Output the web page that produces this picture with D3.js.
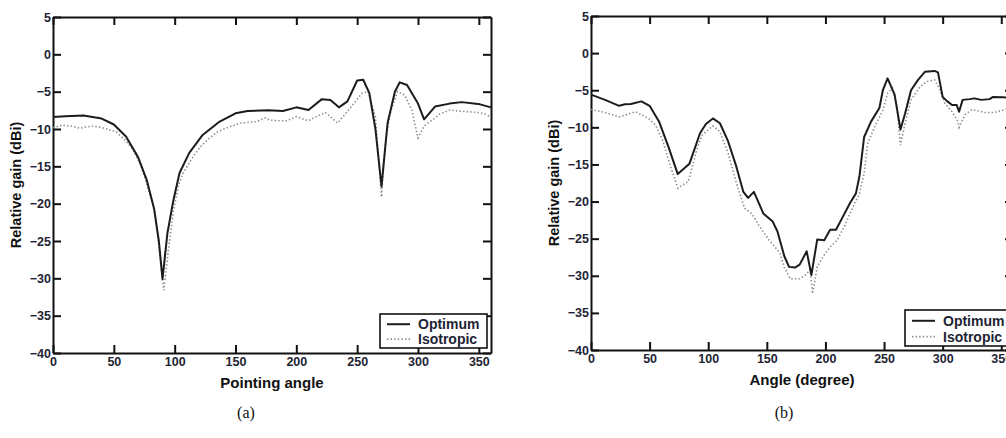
<!DOCTYPE html>
<html>
<head>
<meta charset="utf-8">
<script src="https://cdn.jsdelivr.net/npm/d3@7"></script>
<style>
  html, body { margin: 0; padding: 0; background: #fff; }
  svg { display: block; }
</style>
</head>
<body>
<div id="chart"></div>
<script>
// panel (a): gain vs pointing angle
const angleOptA = [0, 10, 25, 40, 50, 60, 70, 77, 83, 87, 90, 94, 99, 104, 112, 123, 137, 150, 160, 177, 189, 200, 210, 221, 228, 235, 242, 250, 255, 260, 265, 270, 275, 281, 285, 291, 300, 305, 314, 326, 336, 351, 360];
const gainOptA = [-8.4, -8.3, -8.2, -8.6, -9.4, -11.0, -13.8, -16.8, -20.6, -25, -30.1, -24, -19.5, -15.9, -13.2, -10.8, -9.0, -7.9, -7.6, -7.5, -7.6, -7.1, -7.45, -6.0, -6.1, -7.1, -6.3, -3.5, -3.4, -5.2, -10, -17.7, -9.2, -5.0, -3.75, -4.1, -6.6, -8.7, -7.0, -6.6, -6.4, -6.7, -7.1];
const angleIsoA = [0, 8, 15, 22, 32, 40, 52, 60, 66, 72, 77, 84, 88, 91, 95, 99, 103, 107, 114, 121, 128, 135, 145, 154, 162, 168, 174, 178, 185, 192, 200, 210, 217, 224, 234, 244, 254, 259, 265, 270, 273, 277, 283, 289, 295, 300, 305, 310, 318, 326, 333, 342, 350, 355, 360];
const gainIsoA = [-9.8, -9.5, -9.6, -9.9, -9.6, -9.8, -10.4, -11.6, -12.8, -14.8, -17.3, -21.3, -27, -31.6, -26, -21, -17.6, -15.9, -14.0, -12.4, -11.3, -10.4, -9.7, -9.2, -9.1, -9.0, -8.5, -8.8, -8.9, -8.9, -8.35, -8.9, -8.3, -7.8, -9.2, -7.25, -5.2, -5.0, -8.4, -19.1, -12, -8, -5.0, -5.45, -7.5, -11.2, -9.6, -9.0, -8.0, -7.45, -7.6, -7.7, -7.8, -8.0, -8.4];

// panel (b): gain vs angle (degree)
const angleOptB = [0, 12, 24, 29, 34, 43, 50, 58, 66, 74, 84, 93, 98, 104, 110, 117, 124, 130, 134, 139, 147, 155, 159, 165, 169, 174, 178, 184, 188, 193, 199, 204, 209, 215, 221, 226, 229, 233, 239, 246, 249, 253, 259, 264, 268, 273, 279, 285, 293, 296, 300, 304, 308, 312, 314, 317, 323, 327, 333, 340, 343, 351, 360];
const gainOptB = [-5.6, -6.3, -7.1, -6.9, -6.86, -6.5, -7.1, -9.2, -12.6, -16.3, -14.9, -10.8, -9.55, -8.8, -9.45, -11.9, -15.3, -18.7, -19.5, -18.7, -21.6, -22.7, -24.0, -27.4, -28.8, -28.9, -28.5, -26.7, -29.9, -25.1, -25.2, -23.8, -23.8, -22.0, -20.2, -18.9, -16.6, -11.3, -9.2, -7.4, -5.0, -3.4, -5.6, -10.3, -8.1, -5.0, -3.6, -2.5, -2.4, -2.6, -5.9, -6.5, -7.0, -7.0, -7.9, -6.3, -6.2, -6.1, -6.3, -6.2, -5.9, -5.95, -6.0];
const angleIsoB = [0, 12, 24, 34, 38, 49, 55, 61, 67, 74, 83, 91, 95, 104, 110, 117, 124, 131, 137, 144, 152, 161, 165, 170, 178, 183, 187, 189, 193, 198, 204, 210, 216, 225, 229, 233, 236, 242, 249, 253, 257, 261, 264, 268, 273, 280, 286, 293, 297, 302, 308, 313, 314, 319, 325, 336, 344, 351, 360];
const gainIsoB = [-7.6, -8.0, -8.6, -8.1, -7.9, -8.8, -9.7, -11.7, -14.85, -18.2, -17.3, -12.6, -11.0, -9.8, -10.6, -13.5, -17.5, -20.9, -21.6, -23.4, -25.2, -26.9, -28.9, -30.4, -30.4, -29.9, -29.2, -32.4, -28.8, -27.4, -26.1, -25.2, -23.4, -20.2, -18.9, -16.2, -12.2, -9.9, -7.7, -5.4, -4.7, -7.2, -12.4, -9.45, -6.3, -4.7, -3.85, -3.6, -4.7, -6.8, -7.9, -9.2, -10.0, -8.3, -7.6, -8.0, -8.0, -7.7, -7.3];

const xTicks = [0, 50, 100, 150, 200, 250, 300, 350];
const yTicks = [-40, -35, -30, -25, -20, -15, -10, -5, 0, 5];
const seriesNames = ["Optimum", "Isotropic"];

const W = 1006, H = 438;
const FONT = "Arial, 'Liberation Sans', sans-serif";
const svg = d3.select("#chart").append("svg").attr("width", W).attr("height", H);

const panels = [
  { left: 53, top: 17, width: 438, height: 336, xTitle: "Pointing angle", tag: "(a)", tagX: 246,
    opt: [angleOptA, gainOptA], iso: [angleIsoA, gainIsoA], legend: { x: 380, y: 314, w: 107, h: 34 } },
  { left: 591, top: 16, width: 422, height: 334, xTitle: "Angle (degree)", tag: "(b)", tagX: 784,
    opt: [angleOptB, gainOptB], iso: [angleIsoB, gainIsoB], legend: { x: 905, y: 310, w: 107, h: 36 } },
];

panels.forEach(drawPanel);

function drawPanel(p) {
  const g = svg.append("g").attr("transform", `translate(${p.left},${p.top})`);
  const x = d3.scaleLinear().domain([0, 360]).range([0, p.width]);
  const y = d3.scaleLinear().domain([-40, 5]).range([p.height, 0]);
  const fmt = (d) => (d < 0 ? "\u2212" + Math.abs(d) : String(d));

  const styleAxis = (sel) => {
    sel.select(".domain").attr("stroke", "#111").attr("stroke-width", 2);
    sel.selectAll(".tick line").attr("stroke", "#111").attr("stroke-width", 2);
    sel.selectAll(".tick text")
      .style("font-family", FONT).style("font-weight", "bold")
      .style("font-size", "12.5px").style("fill", "#1e2433");
  };

  g.append("g").attr("transform", `translate(0,${p.height})`)
    .call(d3.axisBottom(x).tickValues(xTicks).tickFormat(fmt).tickSizeInner(-8).tickSizeOuter(0).tickPadding(4))
    .call(styleAxis);
  g.append("g")
    .call(d3.axisTop(x).tickValues(xTicks).tickFormat("").tickSizeInner(-8).tickSizeOuter(0))
    .call(styleAxis);
  g.append("g")
    .call(d3.axisLeft(y).tickValues(yTicks).tickFormat(fmt).tickSizeInner(-8).tickSizeOuter(0).tickPadding(2))
    .call(styleAxis);
  g.append("g").attr("transform", `translate(${p.width},0)`)
    .call(d3.axisRight(y).tickValues(yTicks).tickFormat("").tickSizeInner(-8).tickSizeOuter(0))
    .call(styleAxis);

  const line = d3.line().x((d) => x(d[0])).y((d) => y(d[1]));
  const isoPts = d3.zip(p.iso[0], p.iso[1]);
  const optPts = d3.zip(p.opt[0], p.opt[1]);

  g.append("path").datum(isoPts).attr("d", line)
    .attr("fill", "none").attr("stroke", "#8a8a8a").attr("stroke-width", 1.6)
    .attr("stroke-dasharray", "1.4,2.2");
  g.append("path").datum(optPts).attr("d", line)
    .attr("fill", "none").attr("stroke", "#1c1c1c").attr("stroke-width", 2)
    .attr("stroke-linejoin", "round");

  // axis titles
  g.append("text")
    .attr("x", p.width / 2).attr("y", p.height + 35)
    .attr("text-anchor", "middle")
    .style("font-family", FONT)
    .style("font-weight", "bold").style("font-size", "15px").style("fill", "#111")
    .text(p.xTitle);
  g.append("text")
    .attr("transform", `translate(-32,${p.height / 2}) rotate(-90)`)
    .attr("text-anchor", "middle")
    .style("font-family", FONT)
    .style("font-weight", "bold").style("font-size", "14.5px").style("fill", "#111")
    .text("Relative gain (dBi)");

  // legend
  const lg = svg.append("g").attr("transform", `translate(${p.legend.x},${p.legend.y})`);
  lg.append("rect").attr("width", p.legend.w).attr("height", p.legend.h)
    .attr("fill", "#fff").attr("stroke", "#111").attr("stroke-width", 1.6);
  const rows = lg.selectAll("g.row").data(seriesNames).join("g")
    .attr("class", "row")
    .attr("transform", (d, i) => `translate(0,${p.legend.h * (i === 0 ? 0.3 : 0.74)})`);
  rows.append("line").attr("x1", 7).attr("x2", 30)
    .attr("stroke", (d, i) => (i === 0 ? "#1c1c1c" : "#8a8a8a"))
    .attr("stroke-width", (d, i) => (i === 0 ? 2 : 1.6))
    .attr("stroke-dasharray", (d, i) => (i === 0 ? null : "1.4,2.2"));
  rows.append("text").attr("x", 38).attr("dy", "0.36em")
    .style("font-family", FONT)
    .style("font-weight", "bold").style("font-size", "14px").style("fill", "#1e2433")
    .text((d) => d);

  // panel tag
  svg.append("text").attr("x", p.tagX).attr("y", 418)
    .attr("text-anchor", "middle")
    .style("font-family", "'Liberation Serif', 'Times New Roman', serif")
    .style("font-size", "16px").style("fill", "#111")
    .text(p.tag);
}
</script>
</body>
</html>
